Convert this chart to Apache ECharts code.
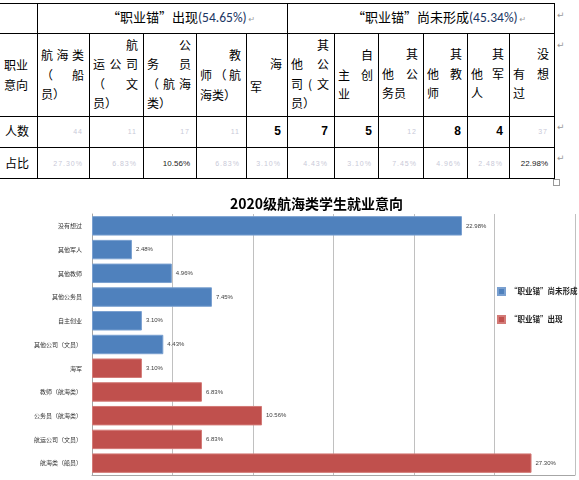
<!DOCTYPE html>
<html>
<head>
<meta charset="utf-8">
<script src="https://cdn.jsdelivr.net/npm/echarts@6/dist/echarts.min.js"></script>
<style>
  body { margin: 0; width: 579px; height: 480px; overflow: hidden; background: #fff; position: relative;
         font-family: "Noto Sans CJK SC", "DejaVu Sans", sans-serif; }
  #tbl { position: absolute; left: 0; top: 0; width: 579px; height: 185px; }
  #tbl div { position: absolute; }
  .h { height: 1px; background: #000; }
  .v { width: 1px; background: #000; }
  .t { font-size: 12px; line-height: 14px; white-space: nowrap; color: #000; }
  .j { text-align: justify; text-align-last: justify; }
  .mark { color: #9a9a9a; font-size: 9px; line-height: 10px; }
  #chart { position: absolute; left: 0; top: 185px; width: 579px; height: 295px; }
</style>
</head>
<body>
<div id="tbl"></div>
<div id="chart"></div>
<script>
// 数据（从左到右 = 表格列顺序，图中从下到上）
const categories = ['航海类（船员）', '航运公司（文员）', '公务员（航海类）', '教师（航海类）', '海军',
  '其他公司（文员）', '自主创业', '其他公务员', '其他教师', '其他军人', '没有想过'];
const shares = [27.30, 6.83, 10.56, 6.83, 3.10, 4.43, 3.10, 7.45, 4.96, 2.48, 22.98];
const counts = [44, 11, 17, 11, 5, 7, 5, 12, 8, 4, 37];
const groupNames = ['“职业锚”出现', '“职业锚”尚未形成'];
const groupShares = ['(54.65%)', '(45.34%)'];
const groupSize = 5; // 前5项属于“出现”
const chartTitle = '2020级航海类学生就业意向';

// 哪些格子在原图里看得清
const clearCount = [0, 0, 0, 0, 1, 1, 1, 0, 1, 1, 0];
const clearShare = [0, 0, 1, 0, 0, 0, 0, 0, 0, 0, 1];

// ---------- 表格 ----------
const tbl = document.getElementById('tbl');
const colEdges = [0, 37, 89, 143, 196, 246, 287, 334, 378, 423, 467, 509, 554];
const rowEdges = [3, 33, 116, 147, 178];

function add(cls, css, text) {
  const d = document.createElement('div');
  d.className = cls;
  d.style.cssText = css;
  if (text !== undefined) d.textContent = text;
  tbl.appendChild(d);
  return d;
}

rowEdges.forEach(y => add('h', `left:0;top:${y}px;width:555px;`));
[37, 287, 554].forEach(x => add('v', `left:${x}px;top:3px;height:30px;`));
colEdges.slice(1).forEach(x => add('v', `left:${x}px;top:33px;height:146px;`));

// 表头换行（Word 里两端对齐的样子）
const headLines = [
  { top: 65, step: 20, lines: [['职业', 'l'], ['意向', 'l']] },
  { top: 55, step: 19.5, lines: [['航海类', 'j'], ['（船', 'j'], ['员）', 'l']] },
  { top: 45, step: 19.3, lines: [['航', 'r'], ['运公司', 'j'], ['（文', 'j'], ['员）', 'l']] },
  { top: 45, step: 19.3, lines: [['公', 'r'], ['务员', 'j'], ['（航海', 'j'], ['类）', 'l']] },
  { top: 55, step: 20, lines: [['教', 'r'], ['师（航', 'j'], ['海类）', 'l']] },
  { top: 64, step: 23, lines: [['海', 'r'], ['军', 'l']] },
  { top: 45, step: 19.3, lines: [['其', 'r'], ['他公', 'j'], ['司(文', 'j'], ['员）', 'l']] },
  { top: 55, step: 19.5, lines: [['自', 'r'], ['主创', 'j'], ['业', 'l']] },
  { top: 54, step: 19.5, lines: [['其', 'r'], ['他公', 'j'], ['务员', 'l']] },
  { top: 54, step: 19.5, lines: [['其', 'r'], ['他教', 'j'], ['师', 'l']] },
  { top: 54, step: 19.5, lines: [['其', 'r'], ['他军', 'j'], ['人', 'l']] },
  { top: 54, step: 19.5, lines: [['没', 'r'], ['有想', 'j'], ['过', 'l']] }
];

headLines.forEach((h, c) => {
  const x0 = colEdges[c] + 4;
  const w = colEdges[c + 1] - colEdges[c] - 9;
  h.lines.forEach((ln, i) => {
    const cy = h.top + i * h.step;
    const cls = 't' + (ln[1] === 'j' ? ' j' : '');
    const al = ln[1] === 'r' ? 'right' : 'left';
    add(cls, `left:${x0}px;top:${cy - 7}px;width:${w}px;text-align:${ln[1] === 'j' ? 'justify' : al};`, ln[0]);
  });
});

// 顶部合并单元格
function groupHead(left, name, pct) {
  const d = add('t', `left:${left}px;top:9px;font-size:13px;line-height:16px;`);
  d.innerHTML = name + '<span style="color:#1c3663;font-size:13.5px;font-family:Carlito,\'Liberation Sans\',sans-serif;">' + pct +
    '</span><span class="mark" style="font-size:8px;"> ↵</span>';
}
groupHead(107, groupNames[0], groupShares[0]);
groupHead(352, groupNames[1], groupShares[1]);

// 人数 / 占比 两行
add('t', 'left:5px;top:124px;', '人数');
add('t', 'left:5px;top:156px;', '占比');
categories.forEach((_, i) => {
  const c = i + 1;
  const right = 579 - colEdges[c + 1] + 6;
  if (clearCount[i]) {
    add('t', `right:${right}px;top:124px;font-family:'Liberation Sans',sans-serif;font-weight:bold;font-size:12px;`, String(counts[i]));
  } else {
    add('t', `right:${right}px;top:125px;font-family:'Liberation Sans Narrow','Liberation Sans',sans-serif;font-size:7px;color:#c9c9d8;letter-spacing:1px;`, String(counts[i]));
  }
  const pct = shares[i].toFixed(2) + '%';
  if (clearShare[i]) {
    add('t', `right:${right}px;top:157px;font-family:'Liberation Sans Narrow','Liberation Sans',sans-serif;font-size:8px;color:#222;`, pct);
  } else {
    add('t', `right:${right}px;top:157px;font-family:'Liberation Sans Narrow','Liberation Sans',sans-serif;font-size:7px;color:#c9c9d8;letter-spacing:1px;`, pct);
  }
});

// Word 的段落标记和表格把手
[10, 40, 122, 153].forEach(y => add('mark', `left:557px;top:${y}px;`, '↵'));
add('', 'left:553px;top:179px;width:5px;height:5px;border:1px solid #999;background:#fff;');

// ---------- 图表 ----------
const chart = echarts.init(document.getElementById('chart'));

const labelOpt = {
  show: true,
  position: 'right',
  distance: 4,
  fontSize: 6,
  color: '#404040',
  formatter: p => Number(p.value).toFixed(2) + '%'
};

const option = {
  animation: false,
  title: {
    text: chartTitle,
    left: 225,
    top: 7,
    textStyle: { fontSize: 14, fontWeight: 'bold', color: '#000', fontFamily: 'Noto Sans CJK SC' }
  },
  legend: {
    orient: 'vertical',
    left: 492,
    top: 97,
    itemWidth: 7,
    itemHeight: 7,
    itemGap: 19,
    icon: 'rect',
    data: [groupNames[1], groupNames[0]],
    textStyle: { fontSize: 7.5, color: '#222', fontWeight: 'bold', fontFamily: 'Noto Sans CJK SC' }
  },
  grid: { left: 92, right: 4, top: 29, bottom: 5, outerBoundsMode: 'none' },
  xAxis: {
    type: 'value',
    min: 0,
    max: 30,
    interval: 5,
    axisLabel: { show: false },
    axisTick: { show: false },
    axisLine: { show: true, lineStyle: { color: '#a6a6a6' } },
    splitLine: { show: true, lineStyle: { color: '#c0c0c0', width: 1 } }
  },
  yAxis: {
    type: 'category',
    data: categories,
    axisTick: { show: false },
    axisLine: { show: true, lineStyle: { color: '#a6a6a6' } },
    axisLabel: { fontSize: 6, color: '#333', margin: 10, fontFamily: 'Noto Sans CJK SC' }
  },
  series: [
    {
      name: groupNames[1],
      type: 'bar',
      stack: 'all',
      barWidth: '82%',
      itemStyle: { color: '#4f81bd', borderColor: '#7aa0d0', borderWidth: 1 },
      label: labelOpt,
      data: shares.map((v, i) => (i >= groupSize ? v : '-'))
    },
    {
      name: groupNames[0],
      type: 'bar',
      stack: 'all',
      barWidth: '82%',
      itemStyle: { color: '#c0504d', borderColor: '#d37a77', borderWidth: 1 },
      label: labelOpt,
      data: shares.map((v, i) => (i < groupSize ? v : '-'))
    }
  ]
};

chart.setOption(option);
</script>
</body>
</html>
